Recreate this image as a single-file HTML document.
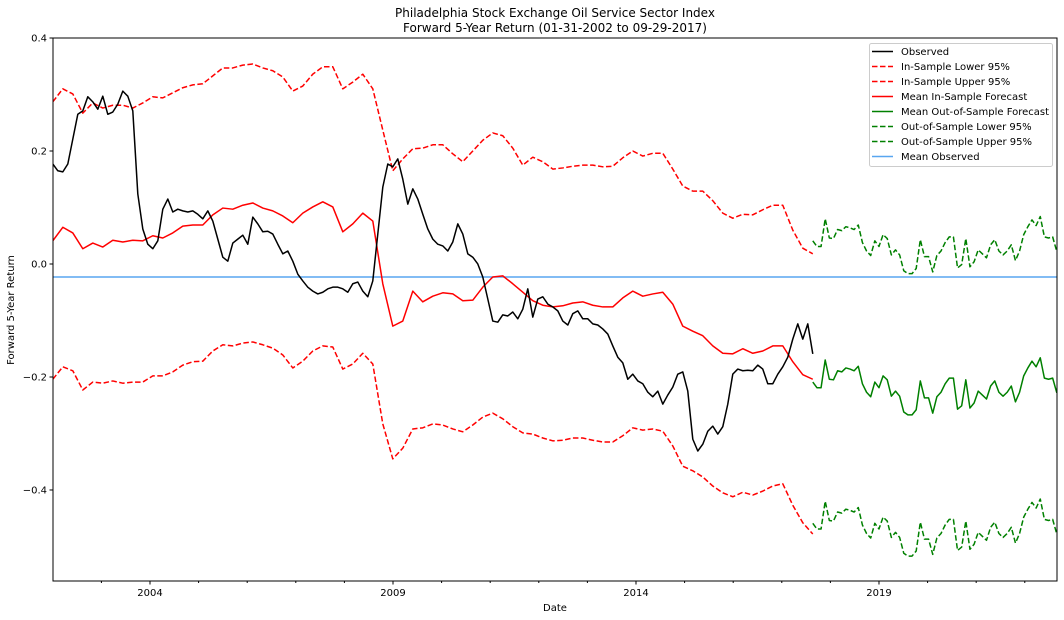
<!DOCTYPE html>
<html><head><meta charset="utf-8"><style>
html,body{margin:0;padding:0;background:#fff;}
svg{display:block;font-family:"DejaVu Sans","Liberation Sans",sans-serif;}
</style></head><body>
<svg id="chart" width="1064" height="620" viewBox="0 0 1064 620" xmlns="http://www.w3.org/2000/svg">
<text x="555" y="17" font-size="12" text-anchor="middle">Philadelphia Stock Exchange Oil Service Sector Index</text>
<text x="555" y="32" font-size="12" text-anchor="middle">Forward 5-Year Return (01-31-2002 to 09-29-2017)</text>
<text x="555" y="611" font-size="10" text-anchor="middle">Date</text>
<text x="0" y="0" font-size="10" text-anchor="middle" transform="translate(14,310) rotate(-90)">Forward 5-Year Return</text>
<g id="plot"></g>
</svg>
<script>
const yTicks=[0.4,0.2,0.0,-0.2,-0.4];
const yTickLabels=["0.4","0.2","0.0","−0.2","−0.4"];
const xTicks=[2004,2009,2014,2019];
const xTickLabels=["2004","2009","2014","2019"];
const xMinorTicks=[2003,2005,2006,2007,2008,2010,2011,2012,2013,2015,2016,2017,2018,2020,2021,2022];
const meanObserved=-0.023;
const obsStart=2002.0, obsStep=0.10288;
const observed=[0.177,0.165,0.163,0.177,0.221,0.265,0.271,0.296,0.287,0.274,0.297,0.265,0.269,0.283,0.306,0.297,0.271,0.124,0.062,0.035,0.027,0.041,0.097,0.115,0.092,0.097,0.094,0.092,0.094,0.088,0.080,0.094,0.076,0.044,0.012,0.005,0.037,0.044,0.051,0.035,0.083,0.071,0.057,0.058,0.053,0.035,0.018,0.023,0.005,-0.018,-0.030,-0.041,-0.048,-0.053,-0.050,-0.044,-0.041,-0.041,-0.044,-0.050,-0.035,-0.032,-0.048,-0.058,-0.030,0.053,0.136,0.177,0.172,0.186,0.150,0.106,0.133,0.115,0.088,0.062,0.044,0.035,0.032,0.023,0.039,0.071,0.053,0.018,0.012,0.000,-0.023,-0.062,-0.101,-0.103,-0.090,-0.092,-0.085,-0.097,-0.080,-0.044,-0.094,-0.062,-0.058,-0.071,-0.076,-0.083,-0.101,-0.108,-0.088,-0.083,-0.097,-0.097,-0.106,-0.108,-0.115,-0.124,-0.145,-0.165,-0.175,-0.204,-0.195,-0.207,-0.212,-0.227,-0.235,-0.225,-0.248,-0.232,-0.218,-0.195,-0.191,-0.225,-0.310,-0.331,-0.319,-0.296,-0.287,-0.301,-0.288,-0.248,-0.195,-0.186,-0.189,-0.188,-0.189,-0.179,-0.186,-0.212,-0.212,-0.195,-0.182,-0.165,-0.133,-0.106,-0.133,-0.106,-0.159];
const insStart=2002.0, insStep=0.20576;
const inMean=[0.041,0.065,0.055,0.027,0.037,0.030,0.042,0.039,0.042,0.041,0.050,0.046,0.055,0.067,0.069,0.069,0.087,0.099,0.097,0.104,0.108,0.099,0.094,0.085,0.073,0.090,0.101,0.110,0.101,0.057,0.071,0.090,0.076,-0.035,-0.110,-0.101,-0.048,-0.067,-0.057,-0.051,-0.053,-0.065,-0.064,-0.041,-0.023,-0.021,-0.035,-0.050,-0.065,-0.073,-0.076,-0.074,-0.069,-0.067,-0.073,-0.076,-0.076,-0.060,-0.048,-0.057,-0.053,-0.050,-0.071,-0.110,-0.119,-0.127,-0.145,-0.158,-0.159,-0.150,-0.158,-0.154,-0.145,-0.145,-0.173,-0.196,-0.204];
const inUpper=[0.287,0.310,0.301,0.267,0.285,0.276,0.281,0.281,0.276,0.285,0.296,0.294,0.303,0.312,0.317,0.319,0.333,0.347,0.347,0.352,0.354,0.347,0.342,0.331,0.306,0.315,0.336,0.349,0.349,0.310,0.322,0.336,0.310,0.237,0.165,0.186,0.204,0.205,0.211,0.211,0.195,0.181,0.200,0.219,0.232,0.227,0.205,0.175,0.189,0.181,0.168,0.170,0.173,0.175,0.175,0.172,0.173,0.188,0.200,0.191,0.196,0.196,0.168,0.138,0.129,0.129,0.112,0.090,0.081,0.088,0.087,0.096,0.104,0.104,0.060,0.028,0.018];
const inLower=[-0.204,-0.182,-0.189,-0.223,-0.209,-0.211,-0.207,-0.211,-0.209,-0.209,-0.198,-0.198,-0.191,-0.179,-0.173,-0.172,-0.154,-0.143,-0.145,-0.140,-0.138,-0.143,-0.149,-0.161,-0.184,-0.172,-0.154,-0.145,-0.147,-0.186,-0.177,-0.158,-0.177,-0.283,-0.345,-0.326,-0.292,-0.290,-0.283,-0.285,-0.292,-0.297,-0.285,-0.271,-0.264,-0.274,-0.288,-0.299,-0.301,-0.308,-0.313,-0.312,-0.308,-0.308,-0.312,-0.315,-0.315,-0.304,-0.290,-0.294,-0.292,-0.296,-0.322,-0.358,-0.366,-0.377,-0.393,-0.405,-0.412,-0.404,-0.409,-0.402,-0.393,-0.389,-0.427,-0.458,-0.478];
const oosStart=2017.638, oosStep=0.0851;
const oosMean=[-0.209,-0.219,-0.219,-0.170,-0.204,-0.205,-0.189,-0.191,-0.184,-0.186,-0.189,-0.181,-0.212,-0.227,-0.235,-0.209,-0.219,-0.198,-0.205,-0.234,-0.225,-0.234,-0.262,-0.267,-0.267,-0.258,-0.207,-0.237,-0.237,-0.264,-0.235,-0.227,-0.212,-0.202,-0.202,-0.257,-0.251,-0.205,-0.255,-0.246,-0.225,-0.232,-0.239,-0.216,-0.207,-0.227,-0.234,-0.227,-0.216,-0.244,-0.227,-0.198,-0.184,-0.172,-0.182,-0.166,-0.202,-0.204,-0.202,-0.228];
const oosUpper=[0.041,0.031,0.031,0.080,0.046,0.045,0.061,0.059,0.066,0.064,0.061,0.069,0.038,0.023,0.015,0.041,0.031,0.052,0.045,0.016,0.025,0.016,-0.012,-0.017,-0.017,-0.008,0.043,0.013,0.013,-0.014,0.015,0.023,0.038,0.048,0.048,-0.007,-0.001,0.045,-0.005,0.004,0.025,0.018,0.011,0.034,0.043,0.023,0.016,0.023,0.034,0.006,0.023,0.052,0.066,0.078,0.068,0.084,0.048,0.046,0.048,0.022];
const oosLower=[-0.459,-0.469,-0.469,-0.420,-0.454,-0.455,-0.439,-0.441,-0.434,-0.436,-0.439,-0.431,-0.462,-0.477,-0.485,-0.459,-0.469,-0.448,-0.455,-0.484,-0.475,-0.484,-0.512,-0.517,-0.517,-0.508,-0.457,-0.487,-0.487,-0.514,-0.485,-0.477,-0.462,-0.452,-0.452,-0.507,-0.501,-0.455,-0.505,-0.496,-0.475,-0.482,-0.489,-0.466,-0.457,-0.477,-0.484,-0.477,-0.466,-0.494,-0.477,-0.448,-0.434,-0.422,-0.432,-0.416,-0.452,-0.454,-0.452,-0.478];

const L=53,R=1057,T=38,B=581;
const xMin=2002.004,xMax=2022.663,yMax=0.4,yMin=-0.5611;
const xs=t=>L+(t-xMin)/(xMax-xMin)*(R-L);
const ys=v=>T+(yMax-v)/(yMax-yMin)*(B-T);
const NS="http://www.w3.org/2000/svg";
const plot=document.getElementById('plot');
function mk(tag,attrs,parent){const e=document.createElementNS(NS,tag);for(const k in attrs)e.setAttribute(k,attrs[k]);(parent||plot).appendChild(e);return e;}

const clip=mk('clipPath',{id:'clipArea'});
mk('rect',{x:L,y:T,width:R-L,height:B-T},clip);
const lines=mk('g',{'clip-path':'url(#clipArea)'});



function series(vals,start,step,color,dash,name){
  const pts=vals.map((v,i)=>xs(start+i*step).toFixed(2)+','+ys(v).toFixed(2)).join(' ');
  const p=mk('polyline',{points:pts,fill:'none',stroke:color,'stroke-width':1.5,'stroke-linejoin':'round'},lines);
  if(dash)p.setAttribute('stroke-dasharray','5.5,2.5');
  
  
}
const mo=mk('line',{x1:L,x2:R,y1:ys(meanObserved),y2:ys(meanObserved),stroke:'#58a6f0','stroke-width':1.5},lines);


series(inLower,insStart,insStep,'#ff0000',true,'in-sample-lower-95-line');
series(inUpper,insStart,insStep,'#ff0000',true,'in-sample-upper-95-line');
series(inMean,insStart,insStep,'#ff0000',false,'mean-in-sample-forecast-line');
series(oosMean,oosStart,oosStep,'#008000',false,'mean-out-of-sample-forecast-line');
series(oosLower,oosStart,oosStep,'#008000',true,'out-of-sample-lower-95-line');
series(oosUpper,oosStart,oosStep,'#008000',true,'out-of-sample-upper-95-line');
series(observed,obsStart,obsStep,'#000000',false,'observed-line');

const frame=mk('rect',{x:L,y:T,width:R-L,height:B-T,fill:'none',stroke:'#000','stroke-width':1});



yTicks.forEach((v,i)=>{
  const y=ys(v);
  const t=mk('line',{x1:L-3.5,x2:L,y1:y,y2:y,stroke:'#000'});
  
  
  const tx=mk('text',{x:L-6,y:y+3.5,'font-size':10,'text-anchor':'end'});
  tx.textContent=yTickLabels[i];
  
  
});
xTicks.forEach((v,i)=>{
  const x=xs(v);
  const t=mk('line',{x1:x,x2:x,y1:B,y2:B+3.5,stroke:'#000'});
  
  
  const tx=mk('text',{x:x,y:B+15,'font-size':10,'text-anchor':'middle'});
  tx.textContent=xTickLabels[i];
  
  
});
xMinorTicks.forEach(v=>{
  const x=xs(v);
  const t=mk('line',{x1:x,x2:x,y1:B,y2:B+2,stroke:'#000'});
  
  
});

const legendLabels=["Observed","In-Sample Lower 95%","In-Sample Upper 95%","Mean In-Sample Forecast","Mean Out-of-Sample Forecast","Out-of-Sample Lower 95%","Out-of-Sample Upper 95%","Mean Observed"];
const legendColors=["#000","#ff0000","#ff0000","#ff0000","#008000","#008000","#008000","#58a6f0"];
const legendDashed=[false,true,true,false,false,true,true,false];
const lg=mk('g',{});


mk('rect',{x:869.5,y:43.5,width:183,height:123,rx:2,fill:'#fff','fill-opacity':0.8,stroke:'#ccc'},lg);
legendLabels.forEach((lab,i)=>{
  const y=51.5+i*15;
  const g=mk('g',{},lg);
  
  
  const l=mk('line',{x1:872,x2:893,y1:y,y2:y,stroke:legendColors[i],'stroke-width':1.5},g);
  if(legendDashed[i])l.setAttribute('stroke-dasharray','5.5,2.5');
  const t=mk('text',{x:901,y:y+3.5,'font-size':10},g);
  t.textContent=lab;
});
</script>
</body></html>
